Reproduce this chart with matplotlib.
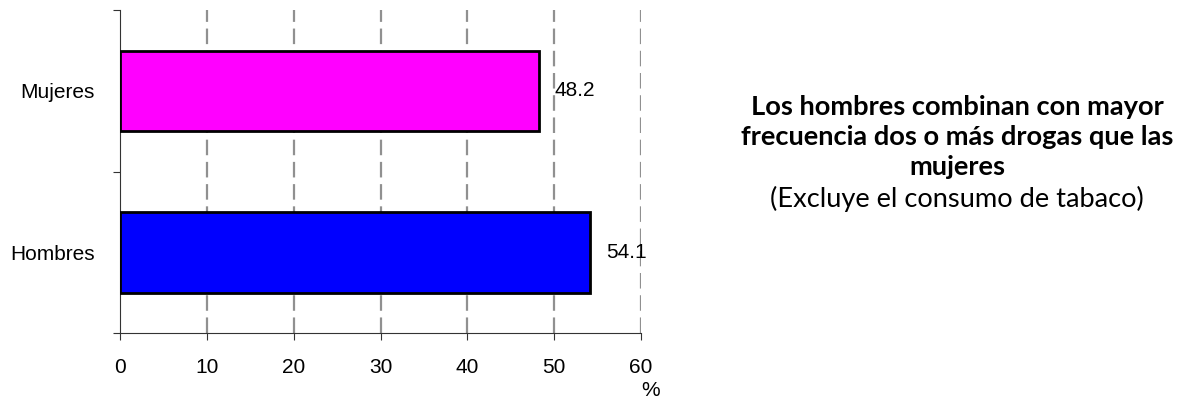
import matplotlib.pyplot as plt
from matplotlib.transforms import offset_copy

categorias = ['Hombres', 'Mujeres']
valores = [54.1, 48.2]
colores = ['#0000FF', '#FF00FF']
ticks_x = [0, 10, 20, 30, 40, 50, 60]

plt.rcParams['font.family'] = ['Liberation Sans', 'DejaVu Sans']
fs = 15

fig = plt.figure(figsize=(11.81, 4.01), dpi=100)
ax = fig.add_axes([0.1016, 0.1696, 0.4412, 0.805])

pos = list(range(len(categorias)))
ax.barh(pos, valores, height=0.5, color=colores, edgecolor='black', linewidth=2, zorder=3)

# etiquetas de valor
trans = offset_copy(ax.transData, fig=fig, x=16, y=0, units='dots')
for p, v in zip(pos, valores):
    ax.text(v, p, '{0}'.format(v), transform=trans, ha='left', va='center', fontsize=fs, zorder=4)

ax.set_xlim(0, 60)
ax.set_ylim(-0.5, 1.5)
ax.set_xticks(ticks_x)
ax.set_xticklabels([str(t) for t in ticks_x], fontsize=fs)
ax.set_yticks([-0.5, 0.5, 1.5])
ax.set_yticklabels([])
ax.set_yticks(pos, minor=True)
ax.set_yticklabels(categorias, minor=True, fontsize=fs)
ax.tick_params(axis='y', which='minor', length=0, pad=18)
ax.tick_params(axis='y', which='major', length=5, width=0.8, color='#333333')
ax.tick_params(axis='x', length=5, width=0.8, color='#333333', pad=13)

for x in ticks_x[1:]:
    ax.axvline(x, color='#909090', linestyle=(0, (7, 3)), linewidth=1.6, zorder=1)

ax.spines['top'].set_visible(False)
ax.spines['right'].set_visible(False)
ax.spines['left'].set_color('#333333')
ax.spines['bottom'].set_color('#333333')

fig.text(651 / 1181, 1 - 391 / 401, '%', ha='center', va='center', fontsize=fs)

cx = 957 / 1181
titulo = ['Los hombres combinan con mayor', 'frecuencia dos o más drogas que las', 'mujeres']
ys = [107, 137, 167]
for t, y in zip(titulo, ys):
    fig.text(cx, 1 - y / 401, t, ha='center', va='center', fontsize=19.6,
             fontweight='bold', family=['Lato', 'DejaVu Sans'])
fig.text(cx, 1 - 199 / 401, '(Excluye el consumo de tabaco)', ha='center', va='center',
         fontsize=19.6, family=['Lato', 'DejaVu Sans'])

fig.savefig('out.png', dpi=100)
